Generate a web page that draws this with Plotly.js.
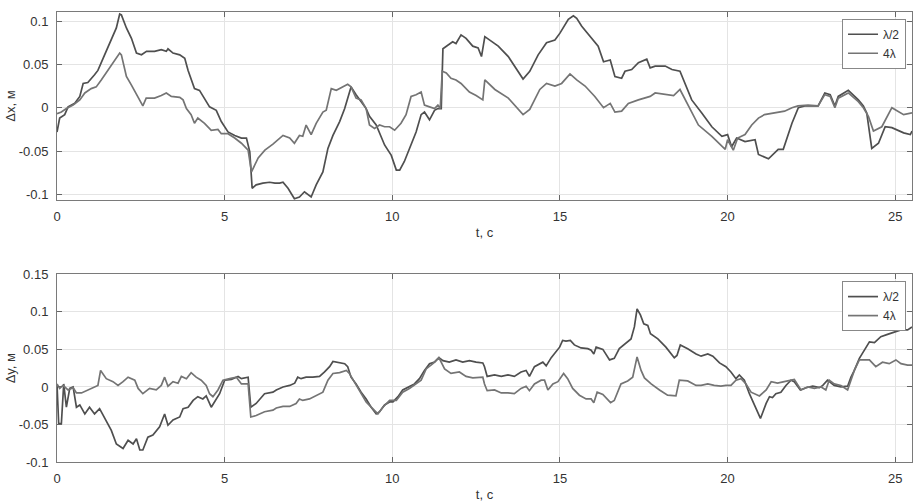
<!DOCTYPE html>
<html>
<head>
<meta charset="utf-8">
<script src="https://cdn.plot.ly/plotly-3.0.1.min.js"></script>
<style>
    html, body { margin: 0; padding: 0; background: #fff; }
    #plotId { width: 919px; height: 504px; }
</style>
</head>
<body>
<div id="plotId"></div>
<script>
// top panel: dx for lambda/2
const tDxHalf = [
    0, 0.08, 0.23, 0.33, 0.53, 0.68, 0.78, 0.92, 1.12, 1.22,
    1.42, 1.62, 1.77, 1.87, 1.92, 2.07, 2.22, 2.37, 2.52, 2.67,
    2.91, 3.11, 3.26, 3.31, 3.46, 3.66, 3.81, 3.91, 4.1, 4.25,
    4.4, 4.55, 4.75, 4.9, 5.1, 5.3, 5.5, 5.65, 5.75, 5.82,
    5.94, 6.14, 6.34, 6.5, 6.64, 6.74, 6.89, 7.08, 7.23, 7.38,
    7.58, 7.73, 7.93, 8.08, 8.23, 8.43, 8.58, 8.77, 8.92, 9.07,
    9.22, 9.32, 9.52, 9.77, 9.97, 10.12, 10.22, 10.36, 10.51, 10.71,
    10.86, 10.96, 11.11, 11.26, 11.36, 11.46, 11.51, 11.66, 11.8, 11.9,
    12.05, 12.2, 12.4, 12.56, 12.66, 12.76, 12.96, 13.16, 13.46, 13.9,
    14.1, 14.35, 14.6, 14.85, 15.0, 15.25, 15.4, 15.5, 15.65, 15.95,
    16.14, 16.3, 16.5, 16.64, 16.84, 16.94, 17.14, 17.34, 17.59, 17.69,
    17.84, 18.14, 18.34, 18.58, 18.73, 18.93, 19.23, 19.53, 19.83, 20.0,
    20.12, 20.27, 20.52, 20.82, 20.92, 21.22, 21.51, 21.66, 21.92, 22.11,
    22.3, 22.5, 22.7, 22.9, 23.06, 23.2, 23.3, 23.6, 23.9, 24.05,
    24.15, 24.3, 24.5, 24.7, 24.9, 25.25, 25.45, 25.5
];
const dxHalf = [
    -0.028, -0.012, -0.008, 0.001, 0.005, 0.013, 0.028, 0.029, 0.038, 0.043,
    0.061, 0.078, 0.092, 0.108, 0.107, 0.092, 0.08, 0.063, 0.061, 0.065,
    0.065, 0.067, 0.065, 0.068, 0.063, 0.061, 0.057, 0.043, 0.022, 0.02,
    0.011, 0.001, -0.003, -0.016, -0.028, -0.032, -0.035, -0.035, -0.051, -0.093,
    -0.089, -0.087, -0.086, -0.087, -0.087, -0.086, -0.093, -0.105, -0.103, -0.097,
    -0.103, -0.089, -0.074, -0.047, -0.032, -0.016, -0.001, 0.024, 0.015, 0.007,
    -0.001, -0.01, -0.02, -0.043, -0.055, -0.072, -0.072, -0.062, -0.047, -0.028,
    -0.008, -0.005, -0.014, -0.003, -0.001, -0.001, 0.068, 0.072, 0.076, 0.074,
    0.084, 0.08, 0.071, 0.069, 0.059, 0.082, 0.077, 0.071, 0.059, 0.033,
    0.042, 0.061, 0.075, 0.078, 0.086, 0.102, 0.106, 0.103, 0.094, 0.08,
    0.071, 0.053, 0.055, 0.036, 0.034, 0.042, 0.044, 0.052, 0.056, 0.046,
    0.048, 0.048, 0.044, 0.042, 0.028, 0.009, -0.006, -0.022, -0.033, -0.031,
    -0.045, -0.035, -0.039, -0.037, -0.054, -0.059, -0.048, -0.048, -0.018, 0.0,
    0.002, 0.002, 0.002, 0.017, 0.015, 0.002, 0.013, 0.02, 0.009, 0.002,
    -0.006, -0.047, -0.041, -0.022, -0.023, -0.029, -0.031, -0.027
];

// top panel: dx for 4 lambda
const tDx4 = [
    0, 0.13, 0.28, 0.48, 0.68, 0.83, 1.02, 1.17, 1.32, 1.52,
    1.72, 1.87, 1.92, 2.07, 2.22, 2.42, 2.56, 2.66, 2.91, 3.11,
    3.26, 3.41, 3.66, 3.76, 3.86, 4.0, 4.1, 4.2, 4.4, 4.6,
    4.8, 4.9, 5.1, 5.3, 5.5, 5.7, 5.8, 6.0, 6.2, 6.44,
    6.54, 6.74, 6.94, 7.08, 7.23, 7.33, 7.43, 7.58, 7.73, 7.93,
    8.03, 8.18, 8.33, 8.48, 8.67, 8.77, 8.92, 9.07, 9.22, 9.32,
    9.47, 9.62, 9.77, 9.92, 10.07, 10.26, 10.41, 10.56, 10.71, 10.86,
    10.96, 11.11, 11.26, 11.36, 11.43, 11.49, 11.61, 11.75, 11.9, 12.05,
    12.3, 12.5, 12.7, 12.76, 13.06, 13.46, 13.9, 14.1, 14.4, 14.6,
    14.85, 15.05, 15.3, 15.5, 15.75, 16.04, 16.3, 16.5, 16.64, 16.84,
    17.04, 17.34, 17.69, 17.84, 18.14, 18.39, 18.58, 18.83, 19.13, 19.53,
    19.93, 20.0, 20.17, 20.3, 20.52, 20.72, 20.92, 21.1, 21.4, 21.7,
    21.92, 22.1, 22.4, 22.7, 22.9, 23.06, 23.2, 23.3, 23.6, 23.9,
    24.05, 24.2, 24.35, 24.6, 24.9, 25.25, 25.5
];
const dx4 = [
    -0.007, -0.005, -0.001, 0.003, 0.009, 0.017, 0.022, 0.024, 0.032, 0.043,
    0.055, 0.063, 0.061, 0.036, 0.026, 0.011, 0.002, 0.011, 0.011, 0.014,
    0.017, 0.013, 0.012, 0.009, -0.001, -0.008, -0.018, -0.012, -0.018, -0.026,
    -0.025, -0.03, -0.03, -0.035, -0.041, -0.049, -0.074, -0.058, -0.049, -0.042,
    -0.039, -0.032, -0.035, -0.041, -0.032, -0.033, -0.02, -0.031, -0.018, -0.005,
    -0.003, 0.022, 0.02, 0.023, 0.027, 0.024, 0.011, 0.009, -0.001, -0.02,
    -0.024, -0.02, -0.022, -0.022, -0.026, -0.018, -0.008, 0.013, 0.015, 0.018,
    0.003, 0.001, -0.001, 0.003, -0.001, 0.042, 0.04, 0.034, 0.032, 0.028,
    0.018, 0.014, 0.009, 0.032, 0.021, 0.011, -0.008, -0.002, 0.021, 0.028,
    0.025, 0.028, 0.039, 0.032, 0.025, 0.013, 0.0, 0.005, -0.005, -0.004,
    0.005, 0.009, 0.013, 0.017, 0.015, 0.014, 0.021, 0.002, -0.02, -0.033,
    -0.048, -0.037, -0.049, -0.035, -0.031, -0.02, -0.012, -0.008, -0.006, -0.004,
    0.0, 0.002, 0.003, 0.002, 0.015, 0.013, 0.0, 0.011, 0.017, 0.007,
    0.0, -0.01, -0.027, -0.022, 0.0, -0.008, -0.006
];

// bottom panel: dy for lambda/2
const tDyHalf = [
    0, 0.05, 0.13, 0.2, 0.28, 0.38, 0.48, 0.58, 0.68, 0.83,
    0.97, 1.12, 1.27, 1.42, 1.62, 1.77, 1.97, 2.12, 2.27, 2.37,
    2.47, 2.56, 2.71, 2.86, 3.06, 3.21, 3.31, 3.46, 3.66, 3.76,
    3.91, 4.06, 4.2, 4.35, 4.45, 4.6, 4.75, 4.85, 5.0, 5.2,
    5.4, 5.5, 5.7, 5.78, 5.94, 6.19, 6.44, 6.54, 6.74, 6.94,
    7.09, 7.18, 7.28, 7.43, 7.63, 7.83, 7.98, 8.13, 8.23, 8.38,
    8.58, 8.67, 8.77, 8.92, 9.07, 9.22, 9.37, 9.52, 9.62, 9.77,
    9.92, 10.02, 10.17, 10.31, 10.51, 10.66, 10.81, 10.96, 11.11, 11.26,
    11.39, 11.51, 11.7, 11.9, 12.1, 12.3, 12.5, 12.7, 12.75, 12.83,
    13.05, 13.25, 13.45, 13.64, 13.84, 13.99, 14.09, 14.24, 14.49, 14.59,
    14.74, 14.89, 14.99, 15.08, 15.18, 15.31, 15.43, 15.63, 15.83, 15.93,
    16.01, 16.08, 16.28, 16.48, 16.62, 16.77, 16.97, 17.12, 17.22, 17.3,
    17.4, 17.5, 17.62, 17.7, 17.92, 18.16, 18.41, 18.49, 18.59, 18.81,
    19.06, 19.21, 19.41, 19.56, 19.76, 19.95, 20.1, 20.25, 20.35, 20.5,
    20.65, 20.8, 20.98, 21.15, 21.25, 21.34, 21.44, 21.59, 21.74, 21.89,
    21.99, 22.17, 22.34, 22.54, 22.74, 22.84, 22.98, 23.18, 23.38, 23.58,
    23.68, 23.78, 23.93, 24.08, 24.23, 24.38, 24.57, 24.77, 24.97, 25.17,
    25.37, 25.5
];
const dyHalf = [
    0.004, -0.049, -0.049, 0.004, -0.027, -0.002, 0.0, -0.027, -0.024, -0.036,
    -0.027, -0.036, -0.029, -0.042, -0.058, -0.076, -0.082, -0.071, -0.076, -0.069,
    -0.084, -0.084, -0.067, -0.064, -0.053, -0.036, -0.051, -0.044, -0.04, -0.029,
    -0.027, -0.018, -0.013, -0.016, -0.012, -0.027, -0.016, -0.009, 0.009, 0.01,
    0.014, 0.011, 0.013, -0.027, -0.022, -0.009, -0.007, -0.004, 0.0, 0.002,
    0.005, 0.013, 0.011, 0.013, 0.013, 0.014, 0.02, 0.027, 0.034, 0.033,
    0.031, 0.027, 0.013, 0.004, -0.007, -0.016, -0.027, -0.036, -0.033, -0.024,
    -0.02, -0.02, -0.013, -0.004, 0.0, 0.004, 0.011, 0.022, 0.031, 0.033,
    0.039, 0.035, 0.033, 0.036, 0.033, 0.035, 0.033, 0.032, 0.027, 0.014,
    0.016, 0.014, 0.016, 0.014, 0.02, 0.022, 0.014, 0.027, 0.033, 0.028,
    0.039, 0.047, 0.053, 0.062, 0.061, 0.062, 0.056, 0.052, 0.051, 0.049,
    0.044, 0.053, 0.05, 0.036, 0.038, 0.051, 0.058, 0.064, 0.08, 0.104,
    0.096, 0.084, 0.082, 0.071, 0.064, 0.053, 0.039, 0.042, 0.056, 0.051,
    0.044, 0.041, 0.044, 0.041, 0.032, 0.027, 0.02, 0.011, 0.016, 0.009,
    -0.009, -0.024, -0.042, -0.022, -0.013, -0.014, -0.009, -0.007, 0.002, 0.009,
    0.007, -0.004, -0.001, 0.001, -0.001, 0.002, 0.009, 0.002, 0.0, 0.001,
    0.013, 0.022, 0.038, 0.049, 0.06, 0.059, 0.067, 0.07, 0.073, 0.076,
    0.076, 0.08
];

// bottom panel: dy for 4 lambda
const tDy4 = [
    0, 0.08, 0.18, 0.33, 0.48, 0.58, 0.73, 0.92, 1.12, 1.22,
    1.3, 1.47, 1.67, 1.82, 1.97, 2.12, 2.32, 2.42, 2.56, 2.76,
    2.96, 3.11, 3.21, 3.31, 3.46, 3.61, 3.71, 3.86, 4.0, 4.15,
    4.3, 4.45, 4.55, 4.65, 4.8, 4.95, 5.15, 5.35, 5.5, 5.7,
    5.78, 5.94, 6.19, 6.44, 6.54, 6.74, 6.94, 7.13, 7.23, 7.33,
    7.53, 7.73, 7.93, 8.08, 8.23, 8.43, 8.63, 8.72, 8.87, 9.07,
    9.22, 9.37, 9.57, 9.72, 9.92, 10.12, 10.31, 10.51, 10.71, 10.86,
    11.01, 11.21, 11.39, 11.56, 11.75, 12.0, 12.2, 12.4, 12.7, 12.75,
    12.83, 13.05, 13.25, 13.45, 13.64, 13.84, 13.99, 14.09, 14.24, 14.44,
    14.54, 14.64, 14.79, 14.94, 15.11, 15.23, 15.38, 15.58, 15.78, 15.93,
    16.01, 16.11, 16.28, 16.51, 16.62, 16.82, 17.02, 17.17, 17.3, 17.42,
    17.52, 17.72, 17.97, 18.21, 18.46, 18.56, 18.81, 19.06, 19.21, 19.41,
    19.6, 19.8, 19.95, 20.1, 20.25, 20.4, 20.55, 20.7, 20.95, 21.15,
    21.3, 21.49, 21.69, 21.89, 21.99, 22.19, 22.39, 22.59, 22.79, 22.93,
    23.03, 23.18, 23.38, 23.58, 23.68, 23.78, 23.93, 24.08, 24.23, 24.42,
    24.62, 24.82, 25.02, 25.17, 25.37, 25.5
];
const dy4 = [
    0.004, -0.002, 0.002, -0.004, -0.001, -0.008, -0.008, -0.004, 0.0, 0.002,
    0.022, 0.011, 0.007, 0.002, 0.007, 0.013, 0.009, -0.002, -0.009, -0.002,
    -0.004, 0.002, 0.013, 0.001, 0.007, 0.005, 0.014, 0.011, 0.019, 0.013,
    0.009, 0.002, -0.009, -0.013, -0.004, 0.009, 0.011, 0.013, 0.004, 0.004,
    -0.04, -0.038, -0.033, -0.031, -0.028, -0.026, -0.026, -0.022, -0.016, -0.018,
    -0.016, -0.012, -0.007, 0.009, 0.018, 0.019, 0.022, 0.018, 0.007, -0.009,
    -0.02, -0.027, -0.036, -0.027, -0.018, -0.018, -0.007, -0.002, 0.004, 0.009,
    0.024, 0.031, 0.039, 0.024, 0.018, 0.02, 0.014, 0.012, 0.013, 0.004,
    -0.005, -0.004, -0.008, -0.008, -0.009, -0.002, 0.001, -0.005, 0.004, 0.009,
    0.009, -0.004, 0.004, 0.007, 0.018, 0.011, -0.002, -0.011, -0.016, -0.016,
    -0.021, -0.007, -0.01, -0.021, -0.018, 0.004, 0.008, 0.013, 0.04, 0.022,
    0.012, 0.004, -0.004, -0.011, -0.012, 0.009, 0.008, 0.002, 0.002, 0.004,
    0.002, 0.001, 0.002, 0.002, 0.009, 0.011, 0.004, -0.007, -0.012, -0.004,
    0.007, 0.005, 0.007, 0.009, 0.01, -0.004, 0.0, -0.002, 0.0, -0.004,
    0.009, 0.004, 0.002, -0.004, 0.009, 0.022, 0.036, 0.036, 0.036, 0.027,
    0.033, 0.031, 0.036, 0.031, 0.029, 0.029
];

const seriesNames = ['λ/2', '4λ'];
const timeTicks = [0, 5, 10, 15, 20, 25];
const dxTickVals = [-0.1, -0.05, 0, 0.05, 0.1];
const dxTickText = ['-0.1', '-0.05', '0', '0.05', '0.1'];
const dyTickVals = [-0.1, -0.05, 0, 0.05, 0.1, 0.15];
const dyTickText = ['-0.1', '-0.05', '0', '0.05', '0.1', '0.15'];

const colorHalf = '#4f4f4f';
const color4 = '#747474';
const font = 'Liberation Sans, Arial, sans-serif';

function line(x, y, name, color, xa, ya, legend) {
    return {
        x, y, name,
        xaxis: xa, yaxis: ya, legend,
        type: 'scatter', mode: 'lines',
        line: { color, width: 1.7 },
        hoverinfo: 'none'
    };
}

// matlab-like boxed axes
function timeAxis(anchor) {
    return {
        anchor,
        range: [0, 25.5],
        tickvals: timeTicks,
        ticks: 'inside', ticklen: 5, tickcolor: '#666',
        mirror: 'ticks', showline: true, linecolor: '#7a7a7a', linewidth: 1,
        showgrid: true, gridcolor: '#e4e4e4', zeroline: false,
        tickfont: { size: 13, color: '#333' },
        ticklabelstandoff: 4,
        title: { text: 't, c', font: { size: 13, color: '#333' }, standoff: 5 },
        fixedrange: true
    };
}

function valueAxis(anchor, domain, range, vals, text, title) {
    return {
        anchor, domain, range,
        tickmode: 'array', tickvals: vals, ticktext: text,
        ticks: 'inside', ticklen: 5, tickcolor: '#666',
        mirror: 'ticks', showline: true, linecolor: '#7a7a7a', linewidth: 1,
        showgrid: true, gridcolor: '#e4e4e4', zeroline: false,
        tickfont: { size: 13, color: '#333' },
        ticklabelstandoff: 5,
        title: { text: title, font: { size: 13, color: '#333' }, standoff: 0 },
        fixedrange: true
    };
}

function legendBox(y) {
    return {
        x: 0.993, y, xanchor: 'right', yanchor: 'top',
        bgcolor: '#fff', bordercolor: '#888', borderwidth: 1,
        font: { family: font, size: 12, color: '#333' },
        itemwidth: 30, tracegroupgap: 0
    };
}

const traces = [
    line(tDxHalf, dxHalf, seriesNames[0], colorHalf, 'x', 'y', 'legend'),
    line(tDx4, dx4, seriesNames[1], color4, 'x', 'y', 'legend'),
    line(tDyHalf, dyHalf, seriesNames[0], colorHalf, 'x2', 'y2', 'legend2'),
    line(tDy4, dy4, seriesNames[1], color4, 'x2', 'y2', 'legend2')
];

const layout = {
    width: 919, height: 504,
    margin: { l: 57, r: 7, t: 12, b: 42 },
    paper_bgcolor: '#fff', plot_bgcolor: '#fff',
    font: { family: font, size: 13, color: '#333' },
    showlegend: true,
    xaxis: timeAxis('y'),
    yaxis: valueAxis('x', [0.582, 1], [-0.1066, 0.1104], dxTickVals, dxTickText, 'Δx, м'),
    xaxis2: timeAxis('y2'),
    yaxis2: valueAxis('x2', [0, 0.417], [-0.1, 0.15], dyTickVals, dyTickText, 'Δy, м'),
    legend: legendBox(0.985),
    legend2: legendBox(0.402)
};

Plotly.newPlot('plotId', traces, layout, { displayModeBar: false });
</script>
</body>
</html>
